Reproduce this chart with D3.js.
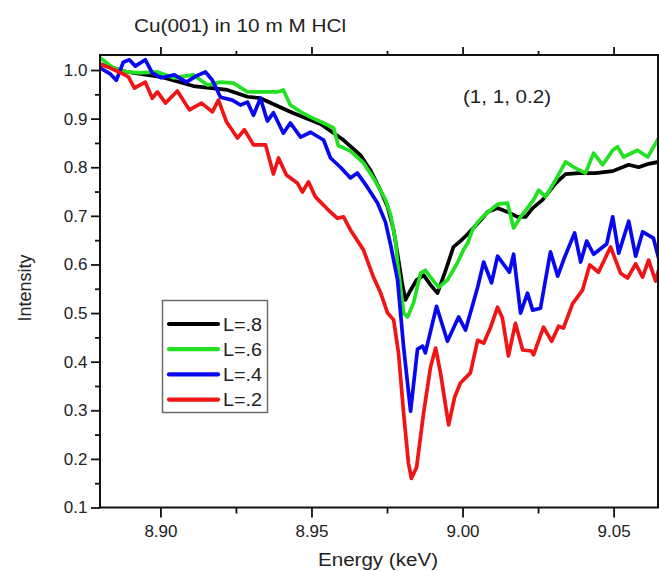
<!DOCTYPE html>
<html><head><meta charset="utf-8">
<script src="https://cdn.jsdelivr.net/npm/d3@7"></script>
<style>
body{margin:0;background:#fff}
text{font-family:"Liberation Sans",Arial,sans-serif;fill:#222}
</style>
</head><body>
<svg id="c" width="659" height="571"></svg>
<script>
// ---- data (energy in keV, normalized intensity) ----
const seriesNames = ["L=.8", "L=.6", "L=.4", "L=.2"];
const seriesColors = ["#000000", "#22e022", "#0808f0", "#f01414"];

const blackE = [8.8801, 8.8890, 8.9000, 8.9109, 8.9222, 8.9288, 8.9331, 8.9437, 8.9530, 8.9606, 8.9662, 8.9695, 8.9728, 8.9752, 8.9772, 8.9788, 8.9801, 8.9811, 8.9828, 8.9848, 8.9871, 8.9894, 8.9917, 8.9944, 8.9970, 8.9993, 9.0013, 9.0036, 9.0060, 9.0083, 9.0116, 9.0149, 9.0182, 9.0209, 9.0232, 9.0265, 9.0308, 9.0341, 9.0384, 9.0440, 9.0497, 9.0550, 9.0583, 9.0616, 9.0649];
const blackI = [1.012, 0.996, 0.986, 0.967, 0.959, 0.945, 0.942, 0.912, 0.889, 0.856, 0.825, 0.794, 0.753, 0.718, 0.671, 0.609, 0.558, 0.527, 0.547, 0.568, 0.578, 0.558, 0.541, 0.588, 0.636, 0.648, 0.660, 0.675, 0.691, 0.708, 0.716, 0.708, 0.698, 0.698, 0.716, 0.733, 0.767, 0.786, 0.788, 0.788, 0.792, 0.805, 0.800, 0.807, 0.811];

const greenE = [8.8801, 8.8844, 8.8890, 8.8933, 8.8990, 8.9043, 8.9109, 8.9156, 8.9199, 8.9242, 8.9288, 8.9331, 8.9387, 8.9407, 8.9430, 8.9464, 8.9497, 8.9540, 8.9573, 8.9589, 8.9606, 8.9629, 8.9672, 8.9705, 8.9728, 8.9745, 8.9762, 8.9778, 8.9785, 8.9805, 8.9818, 8.9838, 8.9861, 8.9877, 8.9894, 8.9921, 8.9950, 8.9983, 9.0003, 9.0017, 9.0033, 9.0050, 9.0070, 9.0093, 9.0116, 9.0149, 9.0169, 9.0195, 9.0235, 9.0252, 9.0275, 9.0308, 9.0341, 9.0374, 9.0407, 9.0434, 9.0464, 9.0497, 9.0513, 9.0533, 9.0579, 9.0613, 9.0649];
const greenI = [1.025, 1.004, 0.996, 0.994, 0.996, 0.984, 0.990, 0.969, 0.975, 0.973, 0.955, 0.955, 0.955, 0.959, 0.928, 0.914, 0.903, 0.891, 0.881, 0.844, 0.840, 0.833, 0.809, 0.778, 0.753, 0.733, 0.702, 0.650, 0.603, 0.500, 0.492, 0.521, 0.582, 0.588, 0.574, 0.553, 0.568, 0.603, 0.630, 0.644, 0.671, 0.687, 0.700, 0.712, 0.724, 0.726, 0.675, 0.700, 0.733, 0.753, 0.739, 0.774, 0.811, 0.798, 0.788, 0.829, 0.805, 0.835, 0.842, 0.821, 0.835, 0.821, 0.860];

const blueE = [8.8801, 8.8834, 8.8854, 8.8877, 8.8897, 8.8917, 8.8950, 8.8973, 8.9003, 8.9046, 8.9086, 8.9119, 8.9149, 8.9172, 8.9199, 8.9238, 8.9265, 8.9288, 8.9308, 8.9331, 8.9354, 8.9374, 8.9407, 8.9430, 8.9464, 8.9497, 8.9540, 8.9563, 8.9596, 8.9629, 8.9652, 8.9685, 8.9719, 8.9745, 8.9762, 8.9785, 8.9805, 8.9828, 8.9851, 8.9868, 8.9877, 8.9914, 8.9950, 8.9987, 9.0010, 9.0050, 9.0070, 9.0096, 9.0116, 9.0155, 9.0169, 9.0192, 9.0215, 9.0232, 9.0258, 9.0291, 9.0315, 9.0338, 9.0371, 9.0391, 9.0411, 9.0434, 9.0477, 9.0497, 9.0517, 9.0550, 9.0573, 9.0596, 9.0632, 9.0649];
const blueI = [1.004, 0.992, 0.979, 1.016, 1.021, 1.008, 1.021, 0.994, 0.984, 0.990, 0.975, 0.988, 0.996, 0.979, 0.944, 0.938, 0.928, 0.934, 0.907, 0.942, 0.895, 0.912, 0.870, 0.891, 0.862, 0.872, 0.856, 0.819, 0.800, 0.778, 0.788, 0.759, 0.726, 0.687, 0.640, 0.568, 0.430, 0.298, 0.426, 0.432, 0.418, 0.514, 0.442, 0.492, 0.465, 0.553, 0.605, 0.562, 0.617, 0.584, 0.621, 0.500, 0.541, 0.506, 0.510, 0.626, 0.576, 0.615, 0.665, 0.605, 0.648, 0.621, 0.642, 0.698, 0.623, 0.689, 0.617, 0.667, 0.654, 0.613];

const redE = [8.8801, 8.8834, 8.8870, 8.8894, 8.8914, 8.8950, 8.8973, 8.8990, 8.9017, 8.9056, 8.9096, 8.9136, 8.9172, 8.9192, 8.9219, 8.9255, 8.9278, 8.9308, 8.9348, 8.9374, 8.9391, 8.9417, 8.9454, 8.9470, 8.9490, 8.9513, 8.9556, 8.9586, 8.9606, 8.9629, 8.9672, 8.9705, 8.9728, 8.9752, 8.9772, 8.9788, 8.9805, 8.9821, 8.9831, 8.9848, 8.9871, 8.9894, 8.9911, 8.9927, 8.9954, 8.9974, 8.9993, 9.0026, 9.0050, 9.0070, 9.0093, 9.0116, 9.0132, 9.0152, 9.0175, 9.0199, 9.0228, 9.0235, 9.0268, 9.0295, 9.0318, 9.0334, 9.0364, 9.0397, 9.0421, 9.0450, 9.0490, 9.0523, 9.0546, 9.0573, 9.0596, 9.0616, 9.0639, 9.0649];
const redI = [1.012, 1.004, 0.994, 0.986, 0.963, 0.975, 0.942, 0.955, 0.932, 0.957, 0.918, 0.932, 0.914, 0.938, 0.893, 0.860, 0.877, 0.846, 0.846, 0.786, 0.819, 0.784, 0.767, 0.749, 0.770, 0.739, 0.712, 0.695, 0.698, 0.671, 0.630, 0.574, 0.543, 0.500, 0.486, 0.418, 0.294, 0.191, 0.160, 0.183, 0.294, 0.389, 0.428, 0.377, 0.270, 0.327, 0.356, 0.377, 0.444, 0.438, 0.471, 0.512, 0.490, 0.412, 0.479, 0.424, 0.422, 0.414, 0.471, 0.442, 0.473, 0.469, 0.519, 0.547, 0.599, 0.584, 0.636, 0.582, 0.572, 0.601, 0.574, 0.609, 0.566, 0.588];

const xMajorTicks = [8.90, 8.95, 9.00, 9.05];
const xMinorTicks = [8.925, 8.975, 9.025];
const yMajorTicks = [0.1, 0.2, 0.3, 0.4, 0.5, 0.6, 0.7, 0.8, 0.9, 1.0];
const yMinorTicks = [0.15, 0.25, 0.35, 0.45, 0.55, 0.65, 0.75, 0.85, 0.95];

const titleText = "Cu(001) in 10 m M HCl";
const annotationText = "(1, 1, 0.2)";
const xLabel = "Energy (keV)";
const yLabel = "Intensity";

// ---- drawing ----
const svg = d3.select("#c");
const L = 100, R = 658, T = 55, B = 507.5;
const x = d3.scaleLinear().domain([8.88, 9.0647]).range([L, R]);
const y = d3.scaleLinear().domain([0.1, 1.0309]).range([B, T]);

svg.append("rect").attr("width", 659).attr("height", 571).attr("fill", "#fff");

svg.append("defs").append("clipPath").attr("id", "clip")
  .append("rect").attr("x", L).attr("y", T).attr("width", R - L).attr("height", B - T);

const series = [
  {name: seriesNames[0], color: seriesColors[0], E: blackE, I: blackI},
  {name: seriesNames[1], color: seriesColors[1], E: greenE, I: greenI},
  {name: seriesNames[2], color: seriesColors[2], E: blueE, I: blueI},
  {name: seriesNames[3], color: seriesColors[3], E: redE, I: redI}
];

const line = d3.line().x(d => x(d[0])).y(d => y(d[1]));
const plot = svg.append("g").attr("clip-path", "url(#clip)");
series.forEach(s => {
  const n = Math.min(s.E.length, s.I.length);
  const pts = d3.range(n).map(i => [s.E[i], s.I[i]]);
  plot.append("path").datum(pts)
    .attr("d", line)
    .attr("fill", "none")
    .attr("stroke", s.color)
    .attr("stroke-width", 3.7)
    .attr("stroke-linejoin", "round")
    .attr("stroke-linecap", "round");
});

function styleAxis(g) {
  g.select(".domain").remove();
  g.selectAll(".tick line").attr("stroke", "#111").attr("stroke-width", 1.8);
  g.selectAll(".tick text").attr("font-size", 17).attr("fill", "#222")
    .style("font-family", '"Liberation Sans", Arial, sans-serif');
}

// bottom
svg.append("g").attr("transform", `translate(0,${B})`)
  .call(d3.axisBottom(x).tickValues(xMajorTicks).tickSize(10).tickPadding(7).tickFormat(d3.format(".2f")))
  .call(styleAxis);
svg.append("g").attr("transform", `translate(0,${B})`)
  .call(d3.axisBottom(x).tickValues(xMinorTicks).tickSize(6).tickFormat(""))
  .call(styleAxis);
// top
svg.append("g").attr("transform", `translate(0,${T})`)
  .call(d3.axisTop(x).tickValues(xMajorTicks).tickSize(8).tickFormat(""))
  .call(styleAxis);
svg.append("g").attr("transform", `translate(0,${T})`)
  .call(d3.axisTop(x).tickValues(xMinorTicks).tickSize(4).tickFormat(""))
  .call(styleAxis);
// left
svg.append("g").attr("transform", `translate(${L},0)`)
  .call(d3.axisLeft(y).tickValues(yMajorTicks).tickSize(9).tickPadding(3.5).tickFormat(d3.format(".1f")))
  .call(styleAxis);
svg.append("g").attr("transform", `translate(${L},0)`)
  .call(d3.axisLeft(y).tickValues(yMinorTicks).tickSize(5).tickFormat(""))
  .call(styleAxis);

// frame
svg.append("rect").attr("x", L).attr("y", T).attr("width", R - L).attr("height", B - T)
  .attr("fill", "none").attr("stroke", "#111").attr("stroke-width", 2);

// title & labels
svg.append("text").attr("x", 134).attr("y", 32).attr("font-size", 18)
  .attr("textLength", 212).attr("lengthAdjust", "spacingAndGlyphs").text(titleText);
svg.append("text").attr("x", 463).attr("y", 103).attr("font-size", 18)
  .attr("textLength", 88).attr("lengthAdjust", "spacingAndGlyphs").text(annotationText);
svg.append("text").attr("x", 318).attr("y", 566).attr("font-size", 18)
  .attr("textLength", 120).attr("lengthAdjust", "spacingAndGlyphs").text(xLabel);
svg.append("text").attr("transform", "translate(31,288) rotate(-90)")
  .attr("text-anchor", "middle").attr("font-size", 18).text(yLabel);

// legend
const lg = svg.append("g");
lg.append("rect").attr("x", 162.5).attr("y", 300.5).attr("width", 105).attr("height", 112)
  .attr("fill", "#fff").attr("stroke", "#6a6a6a").attr("stroke-width", 1.5);
series.forEach((s, i) => {
  const cy = 324 + i * 25.2;
  lg.append("line").attr("x1", 169).attr("x2", 218).attr("y1", cy).attr("y2", cy)
    .attr("stroke", s.color).attr("stroke-width", 4.2).attr("stroke-linecap", "round");
  lg.append("text").attr("x", 223).attr("y", cy + 6.5).attr("font-size", 18)
    .attr("textLength", 39).attr("lengthAdjust", "spacingAndGlyphs").text(s.name);
});
</script>
</body></html>
